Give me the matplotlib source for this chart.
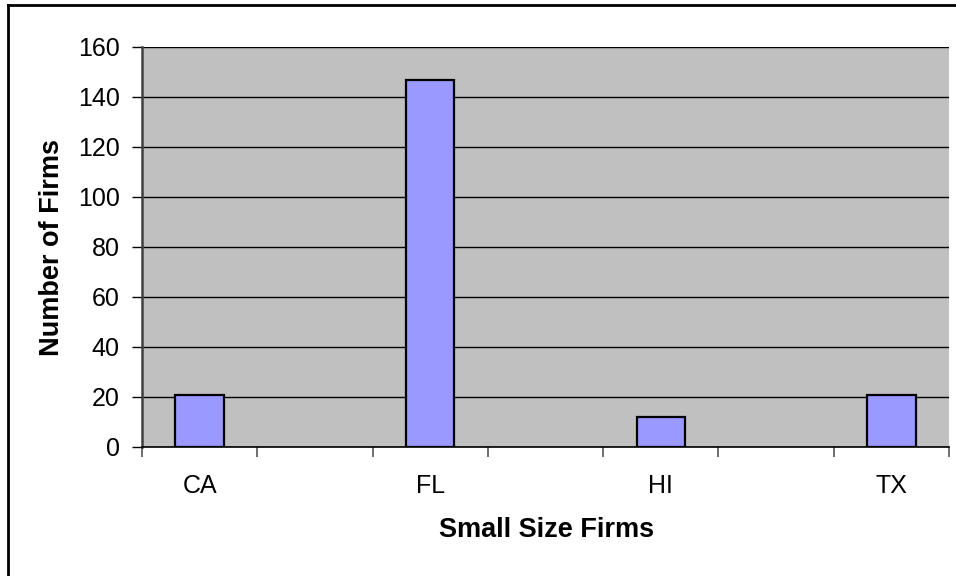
import numpy as np
import matplotlib.pyplot as plt
from matplotlib.lines import Line2D

# states, with empty slots between them on the category axis
categories = ['CA', '', 'FL', '', 'HI', '', 'TX']
firms = [21, np.nan, 147, np.nan, 12, np.nan, 21]
yticks = [0, 20, 40, 60, 80, 100, 120, 140, 160]

plt.rcParams['font.family'] = ['Liberation Sans', 'DejaVu Sans']

fig = plt.figure(figsize=(9.56, 5.76), dpi=100)
W, H = 956, 576
ax = fig.add_axes([142 / W, 1 - 447 / H, (949 - 142) / W, 400 / H])
ax.set_facecolor('#C0C0C0')

x = np.arange(len(categories))
ax.bar(x, firms, width=0.42, color='#9999FF', edgecolor='black',
       linewidth=1.6, zorder=3)

ax.set_xlim(-0.5, len(categories) - 0.5)
ax.set_ylim(0, 160)
ax.set_yticks(yticks)
ax.yaxis.grid(True, color='black', linewidth=1.0, zorder=1)
ax.set_axisbelow(True)

# tick marks sit on category boundaries, labels in the middle
ax.set_xticks(np.arange(-0.5, len(categories), 1.0))
ax.set_xticklabels([])
ax.set_xticks(x, minor=True)
ax.set_xticklabels(categories, minor=True)
ax.tick_params(axis='x', which='major', length=7, width=1.2, color='#555555')
ax.tick_params(axis='x', which='minor', length=0, pad=19.5, labelsize=18)
ax.tick_params(axis='y', length=7, width=1.0, color='black', pad=9,
               labelsize=18)

for s in ['top', 'right']:
    ax.spines[s].set_visible(False)
ax.spines['left'].set_color('#404040')
ax.spines['left'].set_linewidth(1.8)
ax.spines['bottom'].set_color('black')
ax.spines['bottom'].set_linewidth(1.2)

fig.text(52 / W, 1 - 247 / H, 'Number of Firms', rotation=90,
         ha='center', va='center', fontsize=19.5, fontweight='bold')
fig.text(547 / W, 1 - 530 / H, 'Small Size Firms',
         ha='center', va='center', fontsize=19.5, fontweight='bold')

# chart frame
fig.add_artist(Line2D([7.5 / W, 7.5 / W], [0, 1 - 5 / H], color='black',
                      linewidth=2, transform=fig.transFigure))
fig.add_artist(Line2D([7.5 / W, 1], [1 - 5 / H, 1 - 5 / H], color='black',
                      linewidth=2, transform=fig.transFigure))

fig.savefig('out.png', dpi=100)
